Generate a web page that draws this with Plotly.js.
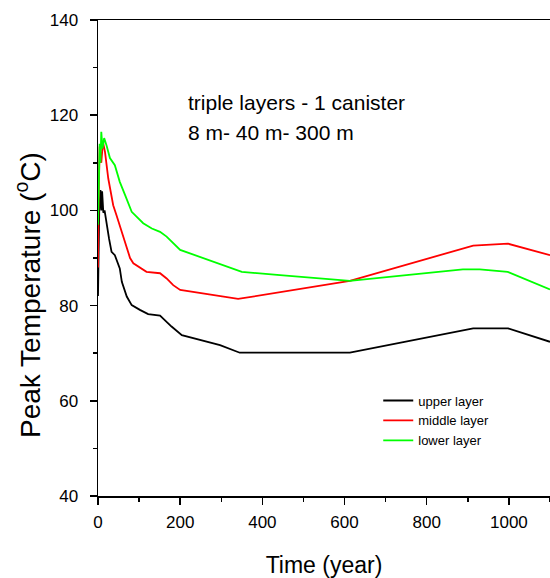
<!DOCTYPE html>
<html>
<head>
<meta charset="utf-8">
<script src="https://cdn.plot.ly/plotly-3.0.1.min.js"></script>
<style>html,body{margin:0;padding:0;background:#fff;}#chart{width:550px;height:578px;}</style>
</head>
<body>
<div id="chart"></div>
<script>
const upperYears = [0, 0.5, 3, 6, 8, 10, 13, 16, 21, 27, 33, 41, 53, 58, 70, 82, 102, 122, 151, 179, 204, 248, 297, 345, 613, 913, 998, 1100];
const upperTemp  = [82, 88, 100, 104.3, 100, 104, 99.5, 100, 96.9, 94, 91.3, 90.6, 87.8, 85, 81.9, 80.1, 79.1, 78.2, 77.9, 75.6, 73.8, 72.8, 71.7, 70.1, 70.1, 75.2, 75.2, 72.4];

const middleYears = [0, 1, 4, 8, 12, 17, 25, 37, 45, 58, 78, 86, 118, 151, 167, 183, 200, 341, 613, 913, 998, 1100];
const middleTemp  = [88, 100, 113.4, 110, 114.4, 112.3, 106.7, 101.1, 99, 95.5, 90, 88.9, 87.1, 86.8, 85.7, 84.3, 83.3, 81.4, 85.2, 92.6, 93, 90.6];

const lowerYears = [0, 2, 4, 6, 8, 11, 15, 21, 29, 41, 53, 66, 82, 110, 131, 151, 167, 200, 350, 443, 613, 888, 929, 997, 1100];
const lowerTemp  = [97, 108, 114, 110, 116.5, 113, 115.2, 113.6, 111, 109.5, 106, 103.2, 99.7, 97.3, 96.2, 95.5, 94.5, 91.7, 87.1, 86.4, 85.2, 87.6, 87.6, 87.1, 83.4];

const seriesNames = ['upper layer', 'middle layer', 'lower layer'];
const noteLines = ['triple layers - 1 canister', '8 m- 40 m- 300 m'];
const yTitle = 'Peak Temperature (<sup>o</sup>C)';
const xTitle = 'Time (year)';

const traces = [
  {x: upperYears, y: upperTemp, name: seriesNames[0], mode: 'lines', line: {color: '#000000', width: 1.8}},
  {x: middleYears, y: middleTemp, name: seriesNames[1], mode: 'lines', line: {color: '#ff0000', width: 1.8}},
  {x: lowerYears, y: lowerTemp, name: seriesNames[2], mode: 'lines', line: {color: '#00ff00', width: 1.8}}
];

const FAM = 'Arial, Liberation Sans, sans-serif';
const axisFont = {family: FAM, size: 17, color: '#000'};

const layout = {
  width: 550, height: 578,
  margin: {l: 98, r: 0, t: 20, b: 82, pad: 0},
  paper_bgcolor: '#fff', plot_bgcolor: '#fff',
  showlegend: true,
  legend: {
    x: 0.62, xanchor: 'left', y: 0.232, yanchor: 'top',
    font: {family: FAM, size: 13, color: '#000'},
    bgcolor: 'rgba(0,0,0,0)', borderwidth: 0, tracegroupgap: 0
  },
  xaxis: {
    range: [0, 1100], tickmode: 'linear', tick0: 0, dtick: 200,
    ticks: 'outside', ticklen: 7, tickwidth: 1.5, tickcolor: '#000',
    minor: {dtick: 100, ticks: 'outside', ticklen: 4, tickwidth: 1.5, tickcolor: '#000'},
    showline: true, linecolor: '#000', linewidth: 1.5, mirror: true,
    showgrid: false, zeroline: false,
    tickfont: axisFont, ticklabelstandoff: 3,
    title: {text: xTitle, font: {family: FAM, size: 23, color: '#000'}, standoff: 27}
  },
  yaxis: {
    range: [40, 140], tickmode: 'linear', tick0: 40, dtick: 20,
    ticks: 'outside', ticklen: 7, tickwidth: 1.5, tickcolor: '#000',
    minor: {dtick: 10, ticks: 'outside', ticklen: 4, tickwidth: 1.5, tickcolor: '#000'},
    showline: true, linecolor: '#000', linewidth: 1.5, mirror: true,
    showgrid: false, zeroline: false,
    tickfont: axisFont, ticklabelstandoff: 8
  },
  annotations: [
    {xref: 'paper', yref: 'paper', x: (186 - 98) / 452, y: (496 - 102) / 476, xanchor: 'left', yanchor: 'middle',
     text: noteLines[0], showarrow: false, font: {family: FAM, size: 21, color: '#000'}},
    {xref: 'paper', yref: 'paper', x: (186 - 98) / 452, y: (496 - 132) / 476, xanchor: 'left', yanchor: 'middle',
     text: noteLines[1], showarrow: false, font: {family: FAM, size: 21, color: '#000'}},
    {xref: 'paper', yref: 'paper', x: (28 - 98) / 452, y: (496 - 295) / 476, xanchor: 'center', yanchor: 'middle',
     text: yTitle, textangle: -90, showarrow: false, font: {family: FAM, size: 28, color: '#000'}}
  ]
};

Plotly.newPlot('chart', traces, layout, {staticPlot: true, displayModeBar: false});
</script>
</body>
</html>
